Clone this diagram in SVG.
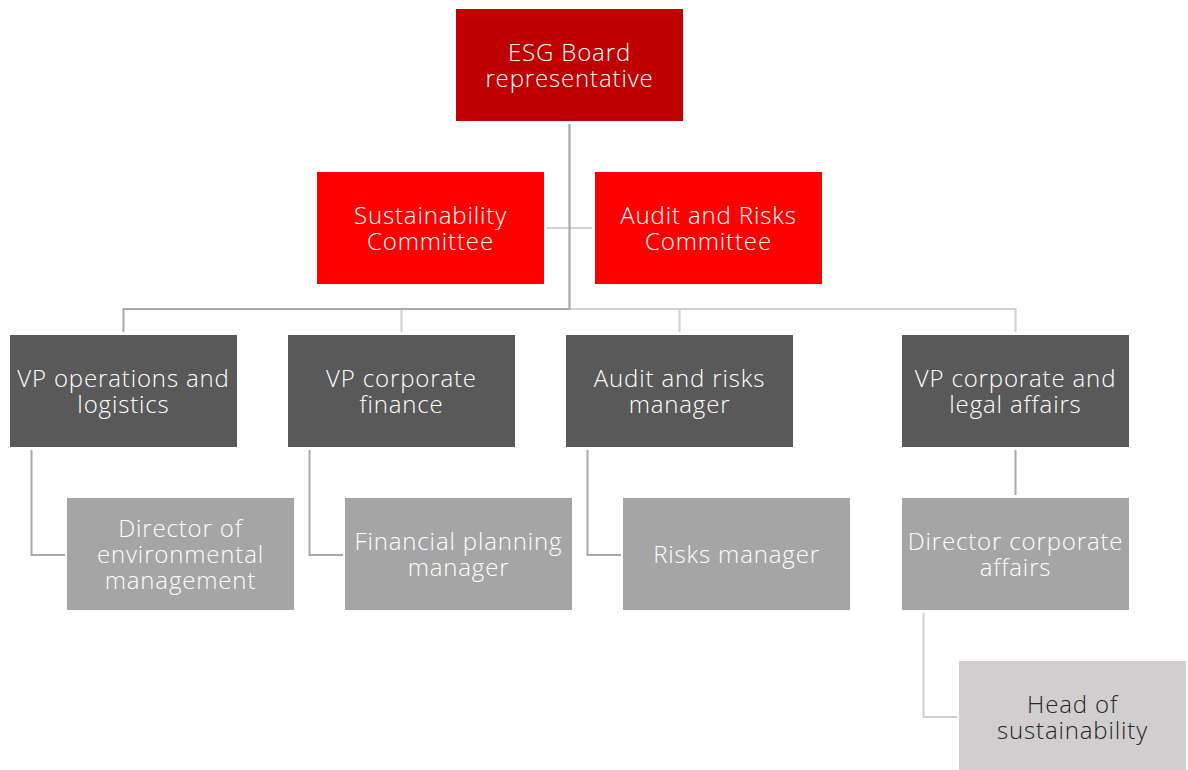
<svg xmlns="http://www.w3.org/2000/svg" width="1188" height="770" viewBox="0 0 1188 770">
<style>
  text { font-family: "Open Sans", "Noto Sans", "Liberation Sans", sans-serif; font-size: 24px; font-weight: 300; letter-spacing: 0.85px; text-anchor: middle; fill: #ffffff; }
  .dark { fill: #262626; }
  .c1 { fill: #bf0000; }
  .c2 { fill: #ff0000; }
  .c3 { fill: #595959; }
  .c4 { fill: #a5a5a5; }
  .c5 { fill: #d0cece; }
  .ln { fill: none; stroke-width: 2; }
  .lg { stroke: #aaaaaa; }
  .ll { stroke: #d0d0d0; }
</style>
<rect width="1188" height="770" fill="#ffffff"/>
<g id="connectors">
  <polyline class="ln ll" points="569.5,124 569.5,309 1015.5,309 1015.5,332"/>
  <polyline class="ln ll" points="569.5,309 401.5,309 401.5,332"/>
  <polyline class="ln ll" points="569.5,309 679.5,309 679.5,332"/>
  <line class="ln ll" x1="547" y1="228" x2="592" y2="228"/>
  <polyline class="ln lg" points="569.5,124 569.5,309 123.5,309 123.5,332"/>
  <polyline class="ln lg" points="31.5,450 31.5,555 65,555"/>
  <polyline class="ln lg" points="309.5,450 309.5,555 343,555"/>
  <polyline class="ln lg" points="587.5,450 587.5,555 621,555"/>
  <line class="ln lg" x1="1015.5" y1="450" x2="1015.5" y2="495"/>
  <polyline class="ln ll" points="923.5,613 923.5,717 957,717"/>
</g>
<g id="esg">
  <rect class="c1" x="456" y="9" width="227" height="112"/>
  <text x="569.5" y="61">ESG Board<tspan x="569.5" dy="26">representative</tspan></text>
</g>
<g id="sustainability-committee">
  <rect class="c2" x="317" y="172" width="227" height="112"/>
  <text x="430.5" y="224">Sustainability<tspan x="430.5" dy="26">Committee</tspan></text>
</g>
<g id="audit-risks-committee">
  <rect class="c2" x="595" y="172" width="227" height="112"/>
  <text x="708.5" y="224">Audit and Risks<tspan x="708.5" dy="26">Committee</tspan></text>
</g>
<g id="vp-operations">
  <rect class="c3" x="10" y="335" width="227" height="112"/>
  <text x="123.5" y="387">VP operations and<tspan x="123.5" dy="26">logistics</tspan></text>
</g>
<g id="vp-finance">
  <rect class="c3" x="288" y="335" width="227" height="112"/>
  <text x="401.5" y="387">VP corporate<tspan x="401.5" dy="26">finance</tspan></text>
</g>
<g id="audit-risks-manager">
  <rect class="c3" x="566" y="335" width="227" height="112"/>
  <text x="679.5" y="387">Audit and risks<tspan x="679.5" dy="26">manager</tspan></text>
</g>
<g id="vp-legal">
  <rect class="c3" x="902" y="335" width="227" height="112"/>
  <text x="1015.5" y="387">VP corporate and<tspan x="1015.5" dy="26">legal affairs</tspan></text>
</g>
<g id="director-environment">
  <rect class="c4" x="67" y="498" width="227" height="112"/>
  <text x="180.5" y="537">Director of<tspan x="180.5" dy="26">environmental</tspan><tspan x="180.5" dy="26">management</tspan></text>
</g>
<g id="financial-planning">
  <rect class="c4" x="345" y="498" width="227" height="112"/>
  <text x="458.5" y="550">Financial planning<tspan x="458.5" dy="26">manager</tspan></text>
</g>
<g id="risks-manager">
  <rect class="c4" x="623" y="498" width="227" height="112"/>
  <text x="736.5" y="563">Risks manager</text>
</g>
<g id="director-corporate-affairs">
  <rect class="c4" x="902" y="498" width="227" height="112"/>
  <text x="1015.5" y="550">Director corporate<tspan x="1015.5" dy="26">affairs</tspan></text>
</g>
<g id="head-sustainability">
  <rect class="c5" x="959" y="661" width="227" height="112"/>
  <text class="dark" x="1072.5" y="713">Head of<tspan x="1072.5" dy="26">sustainability</tspan></text>
</g>
</svg>
